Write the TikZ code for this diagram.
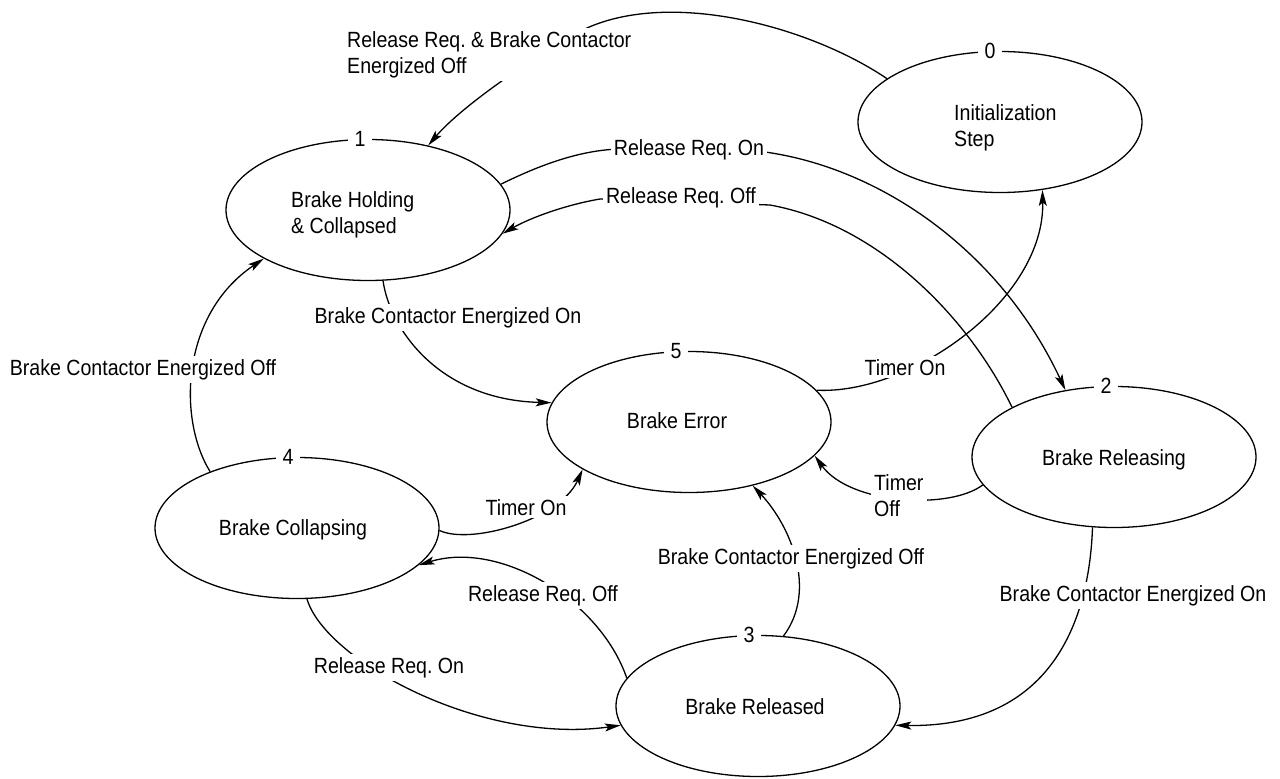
\documentclass[tikz,border=0pt]{standalone}
\usepackage{fontspec}
\setmainfont{Liberation Sans}[FakeStretch=0.89]
\usetikzlibrary{shapes.geometric,arrows.meta}
\frenchspacing
\begin{document}
\begin{tikzpicture}[x=1pt,y=-1pt,
  every node/.style={font=\fontsize{22pt}{26pt}\selectfont},
  state/.style={ellipse, draw, line width=1.3pt, minimum width=284pt,
    minimum height=141pt, inner sep=0pt},
  stext/.style={inner sep=0pt, anchor=base},
  num/.style={fill=white, inner xsep=7pt, inner ysep=1pt},
  lbl/.style={fill=white, inner sep=3pt, anchor=base},
  conn/.style={line width=1.3pt, -{Stealth[length=16pt,width=8pt,inset=3.5pt]}}]

\fill[white] (0,0) rectangle (1280,779);
\useasboundingbox (0,0) rectangle (1280,779);

% states
\node[state] (s0) at (1000,122) {};
\node[state] (s1) at (368,210) {};
\node[state] (s2) at (1114,457) {};
\node[state] (s3) at (758,706) {};
\node[state] (s4) at (297,528) {};
\node[state] (s5) at (689,422) {};

% state names (base of a two-line node is the baseline of its last line)
\node[stext, anchor=base west, align=left] (t0) at (954,146) {Initialization\\Step};
\node[stext, anchor=base west, align=left] (t1) at (291,233) {Brake Holding\\\& Collapsed};
\node[stext] (t2) at (1114,465) {Brake Releasing};
\node[stext] (t3) at (755,714) {Brake Released};
\node[stext] (t4) at (293,535) {Brake Collapsing};
\node[stext] (t5) at (677,428) {Brake Error};

% transitions
\draw[conn] (s0.159) .. controls (800,20) and (640,-18) .. (560,44)
  .. controls (525,63) and (460,108) .. (s1.47);
\draw[conn] (s1.11) .. controls (540,165) and (580,150) .. (620,149) -- (765,152)
  .. controls (880,168) and (1000,250) .. (s2.126);
\draw[conn] (s2.154) .. controls (970,320) and (880,225) .. (770,205) -- (600,199)
  .. controls (565,205) and (530,218) .. (s1.350);
\draw[conn] (s1.282) .. controls (390,330) and (440,400) .. (s5.172);
\draw[conn] (s5.14) .. controls (910,395) and (1045,300) .. (s0.302);
\draw[conn] (s2.192) .. controls (950,510) and (850,505) .. (s5.345);
\draw[conn] (s4.359) .. controls (470,545) and (560,520) .. (s5.204);
\draw[conn] (s3.70) .. controls (818,590) and (790,525) .. (s5.315);
\draw[conn] (s3.168) .. controls (600,600) and (500,540) .. (s4.343);
\draw[conn] (s4.278) .. controls (325,660) and (480,745) .. (s3.188);
\draw[conn] (s2.253) .. controls (1090,600) and (1065,728) .. (s3.352);
\draw[conn] (s4.147) .. controls (178,420) and (180,315) .. (s1.205);

% transition conditions
\node[lbl, anchor=base west, align=left] (lA) at (344,73) {Release Req. \& Brake Contactor\\Energized Off};
\node[lbl] (lB) at (689,155) {Release Req. On};
\node[lbl] (lC) at (681,203) {Release Req. Off};
\node[lbl] (lD) at (448,323) {Brake Contactor Energized On};
\node[lbl] (lE) at (905,375) {Timer On};
\node[lbl, anchor=base west, align=left] (lF) at (871,516) {Timer\\Off};
\node[lbl] (lG) at (526,515) {Timer On};
\node[lbl] (lH) at (791,564) {Brake Contactor Energized Off};
\node[lbl] (lI) at (543,601) {Release Req. Off};
\node[lbl] (lJ) at (389,673) {Release Req. On};
\node[lbl] (lK) at (1133,601) {Brake Contactor Energized On};
\node[lbl] (lL) at (143,375) {Brake Contactor Energized Off};

% step numbers
\node[num] (n0) at ([xshift=-10pt]s0.north) {0};
\node[num] (n1) at ([xshift=-8pt]s1.north) {1};
\node[num] (n2) at ([xshift=-8pt]s2.north) {2};
\node[num] (n3) at ([xshift=-9pt]s3.north) {3};
\node[num] (n4) at ([xshift=-9pt]s4.north) {4};
\node[num] (n5) at ([xshift=-13pt]s5.north) {5};
\end{tikzpicture}
\end{document}
